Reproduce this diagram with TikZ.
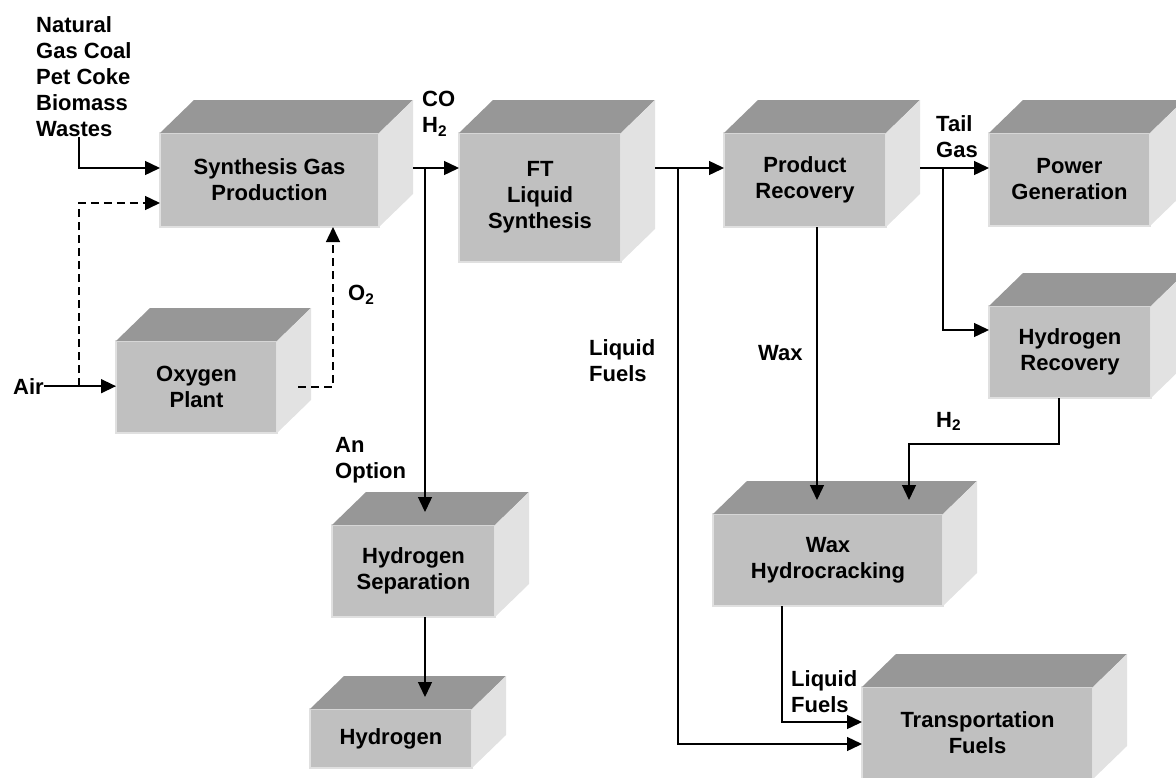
\documentclass[tikz,border=0pt]{standalone}
\usepackage{fontspec}
\setmainfont{Liberation Sans}
\usetikzlibrary{arrows.meta,calc}
\definecolor{frontgray}{HTML}{C0C0C0}
\definecolor{topgray}{HTML}{979797}
\definecolor{sidegray}{HTML}{E2E2E2}
\tikzset{
  unit/.style={rectangle, fill=frontgray, draw=black!12, line width=1.2pt, outer sep=0pt, inner sep=0pt, align=center, font=\bfseries\fontsize{22}{26}\selectfont},
  lbl/.style={anchor=north west, inner sep=0pt, align=left, font=\bfseries\fontsize{22}{26}\selectfont},
  flow/.style={line width=1.4pt, -{Triangle[length=15pt,width=14pt]}},
  optflow/.style={flow, dash pattern=on 8pt off 5pt},
}
\begin{document}
\begin{tikzpicture}[x=1pt,y=-1pt]
\useasboundingbox (0,0) rectangle (1176,777);
\clip (0,0) rectangle (1176,777);
% process units
\node[unit, minimum width=219pt, minimum height=94pt] (syn) at (269.5,180) {Synthesis Gas\\Production};
\node[unit, minimum width=161pt, minimum height=92pt] (oxy) at (196.5,387) {Oxygen\\Plant};
\node[unit, minimum width=162pt, minimum height=129pt] (ft) at (540,197.5) {FT\\Liquid\\Synthesis};
\node[unit, minimum width=162pt, minimum height=94pt] (prod) at (805,180) {Product\\Recovery};
\node[unit, minimum width=161pt, minimum height=93pt] (pow) at (1069.5,179.5) {Power\\Generation};
\node[unit, minimum width=162pt, minimum height=92pt] (hrec) at (1070,352) {Hydrogen\\Recovery};
\node[unit, minimum width=163pt, minimum height=92pt] (hsep) at (413.5,571) {Hydrogen\\Separation};
\node[unit, minimum width=162pt, minimum height=59pt] (hyd) at (391,738.5) {Hydrogen};
\node[unit, minimum width=230pt, minimum height=92pt] (wax) at (828,560) {Wax\\Hydrocracking};
\node[unit, minimum width=231pt, minimum height=92pt] (trans) at (977.5,733) {Transportation\\Fuels};
% top and side faces
\foreach \n in {syn,oxy,ft,prod,pow,hrec,hsep,hyd,wax,trans} {
  \fill[topgray] (\n.north west) -- ++(34,-33) -- ($(\n.north east)+(34,-33)$) -- (\n.north east) -- cycle;
  \fill[sidegray] (\n.north east) -- ++(34,-33) -- ($(\n.south east)+(34,-33)$) -- (\n.south east) -- cycle;
}
% stream labels
\node[lbl] (feed) at (36,16.5) {Natural\\Gas Coal\\Pet Coke\\Biomass\\Wastes};
\node[lbl] (air) at (13,378) {Air};
\node[lbl] (syngas) at (422,91) {CO\\H\textsubscript{2}};
\node[lbl] (oxlbl) at (348,285) {O\textsubscript{2}};
\node[lbl] (opt) at (335,437) {An\\Option};
\node[lbl] (liq1) at (589,339) {Liquid\\Fuels};
\node[lbl] (waxlbl) at (758,345) {Wax};
\node[lbl] (tail) at (936,115) {Tail\\Gas};
\node[lbl] (h2lbl) at (936,412) {H\textsubscript{2}};
\node[lbl] (liq2) at (791,670) {Liquid\\Fuels};
% junctions
\coordinate (feedin) at (79,137);
\coordinate (airsplit) at (air.east -| feedin);
\coordinate (o2out) at ($(oxy.east)+(21,0)$);
\coordinate (split1) at (425,168);
\coordinate (split2) at (678,168);
\coordinate (split3) at (943,168);
% streams
\draw[flow] (feedin) |- ($(syn.west)+(0,-12)$);
\draw[flow] (air.east) -- (air.east -| oxy.west);
\draw[optflow] (airsplit) |- ($(syn.west)+(0,23)$);
\draw[optflow] (o2out) -| ($(syn.south east)+(-46,0)$);
\draw[flow] ($(syn.east)+(34,-12)$) -- ($(ft.north west)+(0,35)$);
\draw[flow] (split1) -- ($(hsep.north)+(11.5,-13)$);
\draw[flow] ($(hsep.south)+(11.5,0)$) -- ($(hyd.north)+(34,-12)$);
\draw[flow] ($(ft.north east)+(34,35)$) -- ($(prod.west)+(0,-12)$);
\draw[flow] (split2) |- ($(trans.west)+(0,11)$);
\draw[flow] ($(prod.south)+(12,0)$) -- ($(wax.north)+(-11,-14)$);
\draw[flow] ($(prod.east)+(34,-12)$) -- ($(pow.west)+(0,-11.5)$);
\draw[flow] (split3) |- ($(hrec.west)+(0,-22)$);
\draw[flow] ($(hrec.south)+(-11,0)$) -- ++(0,46) -| ($(wax.north)+(81,-14)$);
\draw[flow] ($(wax.south)+(-46,0)$) |- ($(trans.west)+(0,-11)$);
\end{tikzpicture}
\end{document}
